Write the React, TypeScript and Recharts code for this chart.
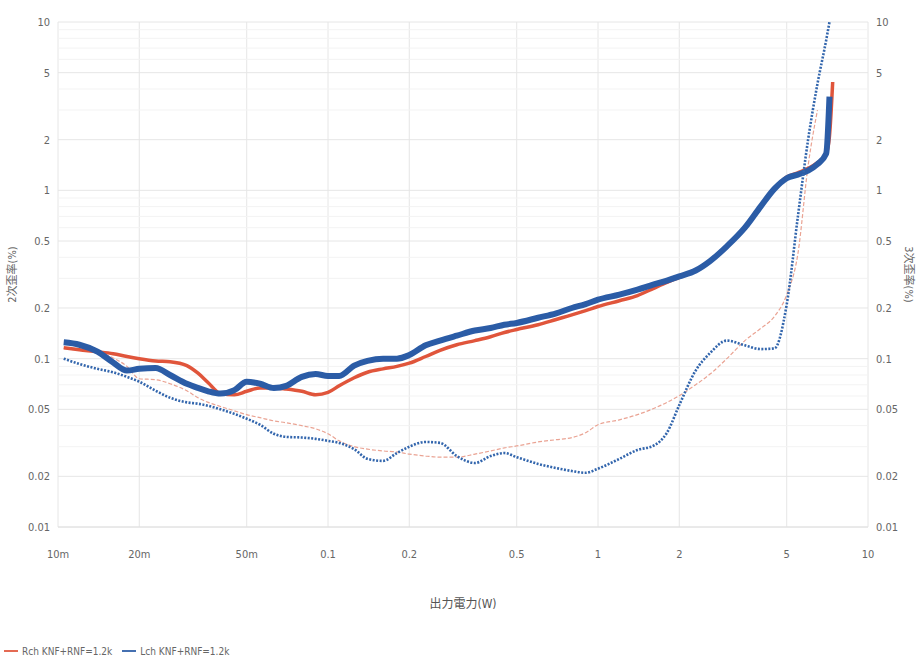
import { LineChart, Line, XAxis, YAxis, CartesianGrid, Legend, ReferenceLine } from "recharts";

// output power (W)
const power = [
  0.0105, 0.012, 0.014, 0.016, 0.018, 0.02, 0.023, 0.026, 0.03, 0.033,
  0.036, 0.04, 0.045, 0.05, 0.056, 0.063, 0.07, 0.08, 0.09, 0.1,
  0.11, 0.125, 0.14, 0.16, 0.18, 0.2, 0.23, 0.26, 0.3, 0.35,
  0.4, 0.45, 0.5, 0.6, 0.7, 0.8, 0.9, 1, 1.2, 1.4,
  1.6, 1.8, 2, 2.3, 2.6, 3, 3.5, 4, 4.5, 5,
  5.5, 6, 6.5, 7, 7.2, 7.4,
];

// 2nd harmonic (%)
const rch2 = [
  0.116, 0.113, 0.11, 0.107, 0.103, 0.1, 0.097, 0.096, 0.091, 0.082,
  0.072, 0.062, 0.061, 0.064, 0.067, 0.067, 0.066, 0.064, 0.061, 0.063,
  0.069, 0.077, 0.083, 0.087, 0.09, 0.094, 0.103, 0.112, 0.121, 0.128,
  0.135, 0.143, 0.149, 0.159, 0.171, 0.182, 0.193, 0.204, 0.221, 0.237,
  0.261, 0.284, 0.304, 0.334, 0.38, 0.465, 0.6, 0.8, 1.02, 1.2,
  1.27, 1.35, 1.46, 1.65, 2.1, 4.4,
];
const lch2 = [
  0.125, 0.121, 0.11, 0.095, 0.085, 0.087, 0.088, 0.08, 0.071, 0.067,
  0.064, 0.062, 0.065, 0.073, 0.071, 0.067, 0.069, 0.078, 0.081, 0.079,
  0.079, 0.091, 0.097, 0.1, 0.1, 0.105, 0.12, 0.128, 0.137, 0.147,
  0.152, 0.159, 0.163, 0.175, 0.186, 0.2, 0.211, 0.224, 0.24, 0.257,
  0.275, 0.291, 0.308, 0.334, 0.38, 0.465, 0.6, 0.8, 1.02, 1.18,
  1.24, 1.31, 1.43, 1.65, 3.6, null,
];

// 3rd harmonic (%)
const rch3 = [
  0.115, 0.112, 0.109, 0.101, 0.09, 0.076, 0.075, 0.071, 0.0645, 0.0586,
  0.055, 0.052, 0.049, 0.0465, 0.0446, 0.0427, 0.0416, 0.04, 0.0383, 0.0358,
  0.0325, 0.03, 0.029, 0.0283, 0.0279, 0.0271, 0.0264, 0.026, 0.026, 0.0271,
  0.0283, 0.0295, 0.0303, 0.032, 0.033, 0.034, 0.0363, 0.0405, 0.0433, 0.0465,
  0.0504, 0.055, 0.0603, 0.07, 0.081, 0.1, 0.128, 0.151, 0.178, 0.24,
  0.42, 1.4, 3.0, null, null, null,
];
const lch3 = [
  0.1, 0.093, 0.087, 0.083, 0.078, 0.073, 0.0645, 0.0586, 0.055, 0.054,
  0.0525, 0.05, 0.047, 0.044, 0.0405, 0.0358, 0.0343, 0.034, 0.0334, 0.0325,
  0.0316, 0.029, 0.0254, 0.0247, 0.0275, 0.03, 0.032, 0.0316, 0.0264, 0.024,
  0.0264, 0.0275, 0.026, 0.0237, 0.0224, 0.0215, 0.021, 0.0222, 0.0254, 0.0287,
  0.0303, 0.0363, 0.053, 0.085, 0.108, 0.128, 0.12, 0.114, 0.115, 0.21,
  0.7, 2.0, 4.3, 7.8, 10, null,
];

const xTicks = [0.01, 0.02, 0.05, 0.1, 0.2, 0.5, 1, 2, 5, 10];
const xTickLabels = ["10m", "20m", "50m", "0.1", "0.2", "0.5", "1", "2", "5", "10"];
const yTicks = [0.01, 0.02, 0.05, 0.1, 0.2, 0.5, 1, 2, 5, 10];
const yTickLabels = ["0.01", "0.02", "0.05", "0.1", "0.2", "0.5", "1", "2", "5", "10"];
const minorY = [
  0.03, 0.04, 0.06, 0.07, 0.08, 0.09,
  0.3, 0.4, 0.6, 0.7, 0.8, 0.9,
  3, 4, 6, 7, 8, 9,
];
const legendOrder = ["rch2", "lch2"];

const data = power.map((p, i) => ({
  p,
  rch2: rch2[i],
  lch2: lch2[i],
  rch3: rch3[i],
  lch3: lch3[i],
}));

const font = "'DejaVu Sans Condensed', 'Liberation Sans Narrow', 'Noto Sans CJK JP', sans-serif";
const tickStyle = { fontSize: 11, fill: "#666", fontFamily: font };

const xLabel = (v: number) => xTickLabels[xTicks.indexOf(v)] ?? String(v);
const yLabel = (v: number) => yTickLabels[yTicks.indexOf(v)] ?? String(v);

export default function App() {
  return (
    <div style={{ position: "absolute", left: 0, top: 0, background: "#fff", fontFamily: font }}>
      <LineChart width={917} height={666} data={data} margin={{ top: 22, right: 0, bottom: 0, left: 0 }}>
        <CartesianGrid yAxisId="left" stroke="#e6e6e6" />
        {minorY.map((v) => (
          <ReferenceLine key={v} yAxisId="left" y={v} stroke="#f3f3f3" />
        ))}
        <XAxis
          dataKey="p"
          type="number"
          scale="log"
          domain={[0.01, 10]}
          ticks={xTicks}
          tickFormatter={xLabel}
          allowDataOverflow
          height={113}
          tick={tickStyle}
          tickLine={false}
          axisLine={{ stroke: "#e0e0e0" }}
          tickMargin={17}
          label={{
            value: "出力電力(W)",
            position: "insideBottom",
            offset: 32,
            style: { fontSize: 12, fill: "#555", fontFamily: font },
          }}
        />
        <YAxis
          yAxisId="left"
          scale="log"
          domain={[0.01, 10]}
          ticks={yTicks}
          tickFormatter={yLabel}
          allowDataOverflow
          width={58}
          tick={tickStyle}
          tickLine={false}
          axisLine={false}
          label={{
            value: "2次歪率(%)",
            angle: -90,
            position: "insideLeft",
            offset: 12,
            style: { fontSize: 11, fill: "#666", fontFamily: font, textAnchor: "middle" },
          }}
        />
        <YAxis
          yAxisId="right"
          orientation="right"
          scale="log"
          domain={[0.01, 10]}
          ticks={yTicks}
          tickFormatter={yLabel}
          allowDataOverflow
          width={49}
          tick={tickStyle}
          tickLine={false}
          axisLine={false}
          label={{
            value: "3次歪率(%)",
            angle: 90,
            position: "insideRight",
            offset: 8,
            style: { fontSize: 11, fill: "#666", fontFamily: font, textAnchor: "middle" },
          }}
        />
        <Legend
          verticalAlign="bottom"
          align="left"
          height={26}
          iconType="plainline"
          iconSize={14}
          wrapperStyle={{ left: 4 }}
          itemSorter={(item: any) => legendOrder.indexOf(String(item.dataKey))}
          formatter={(value) => (
            <span style={{ color: "#666", fontSize: 10, fontFamily: font }}>{value}</span>
          )}
        />
        <Line
          yAxisId="right"
          type="monotone"
          dataKey="rch3"
          stroke="#eaa393"
          strokeWidth={1.2}
          strokeDasharray="4 2"
          dot={false}
          legendType="none"
          isAnimationActive={false}
        />
        <Line
          yAxisId="left"
          type="monotone"
          dataKey="rch2"
          name="Rch KNF+RNF=1.2k"
          stroke="#e0553b"
          strokeWidth={3.5}
          dot={false}
          isAnimationActive={false}
        />
        <Line
          yAxisId="left"
          type="monotone"
          dataKey="lch2"
          name="Lch KNF+RNF=1.2k"
          stroke="#2b5ca6"
          strokeWidth={6}
          dot={false}
          isAnimationActive={false}
        />
        <Line
          yAxisId="right"
          type="monotone"
          dataKey="lch3"
          stroke="#3366ad"
          strokeWidth={2.6}
          strokeDasharray="2 1.5"
          dot={false}
          legendType="none"
          isAnimationActive={false}
        />
      </LineChart>
    </div>
  );
}
